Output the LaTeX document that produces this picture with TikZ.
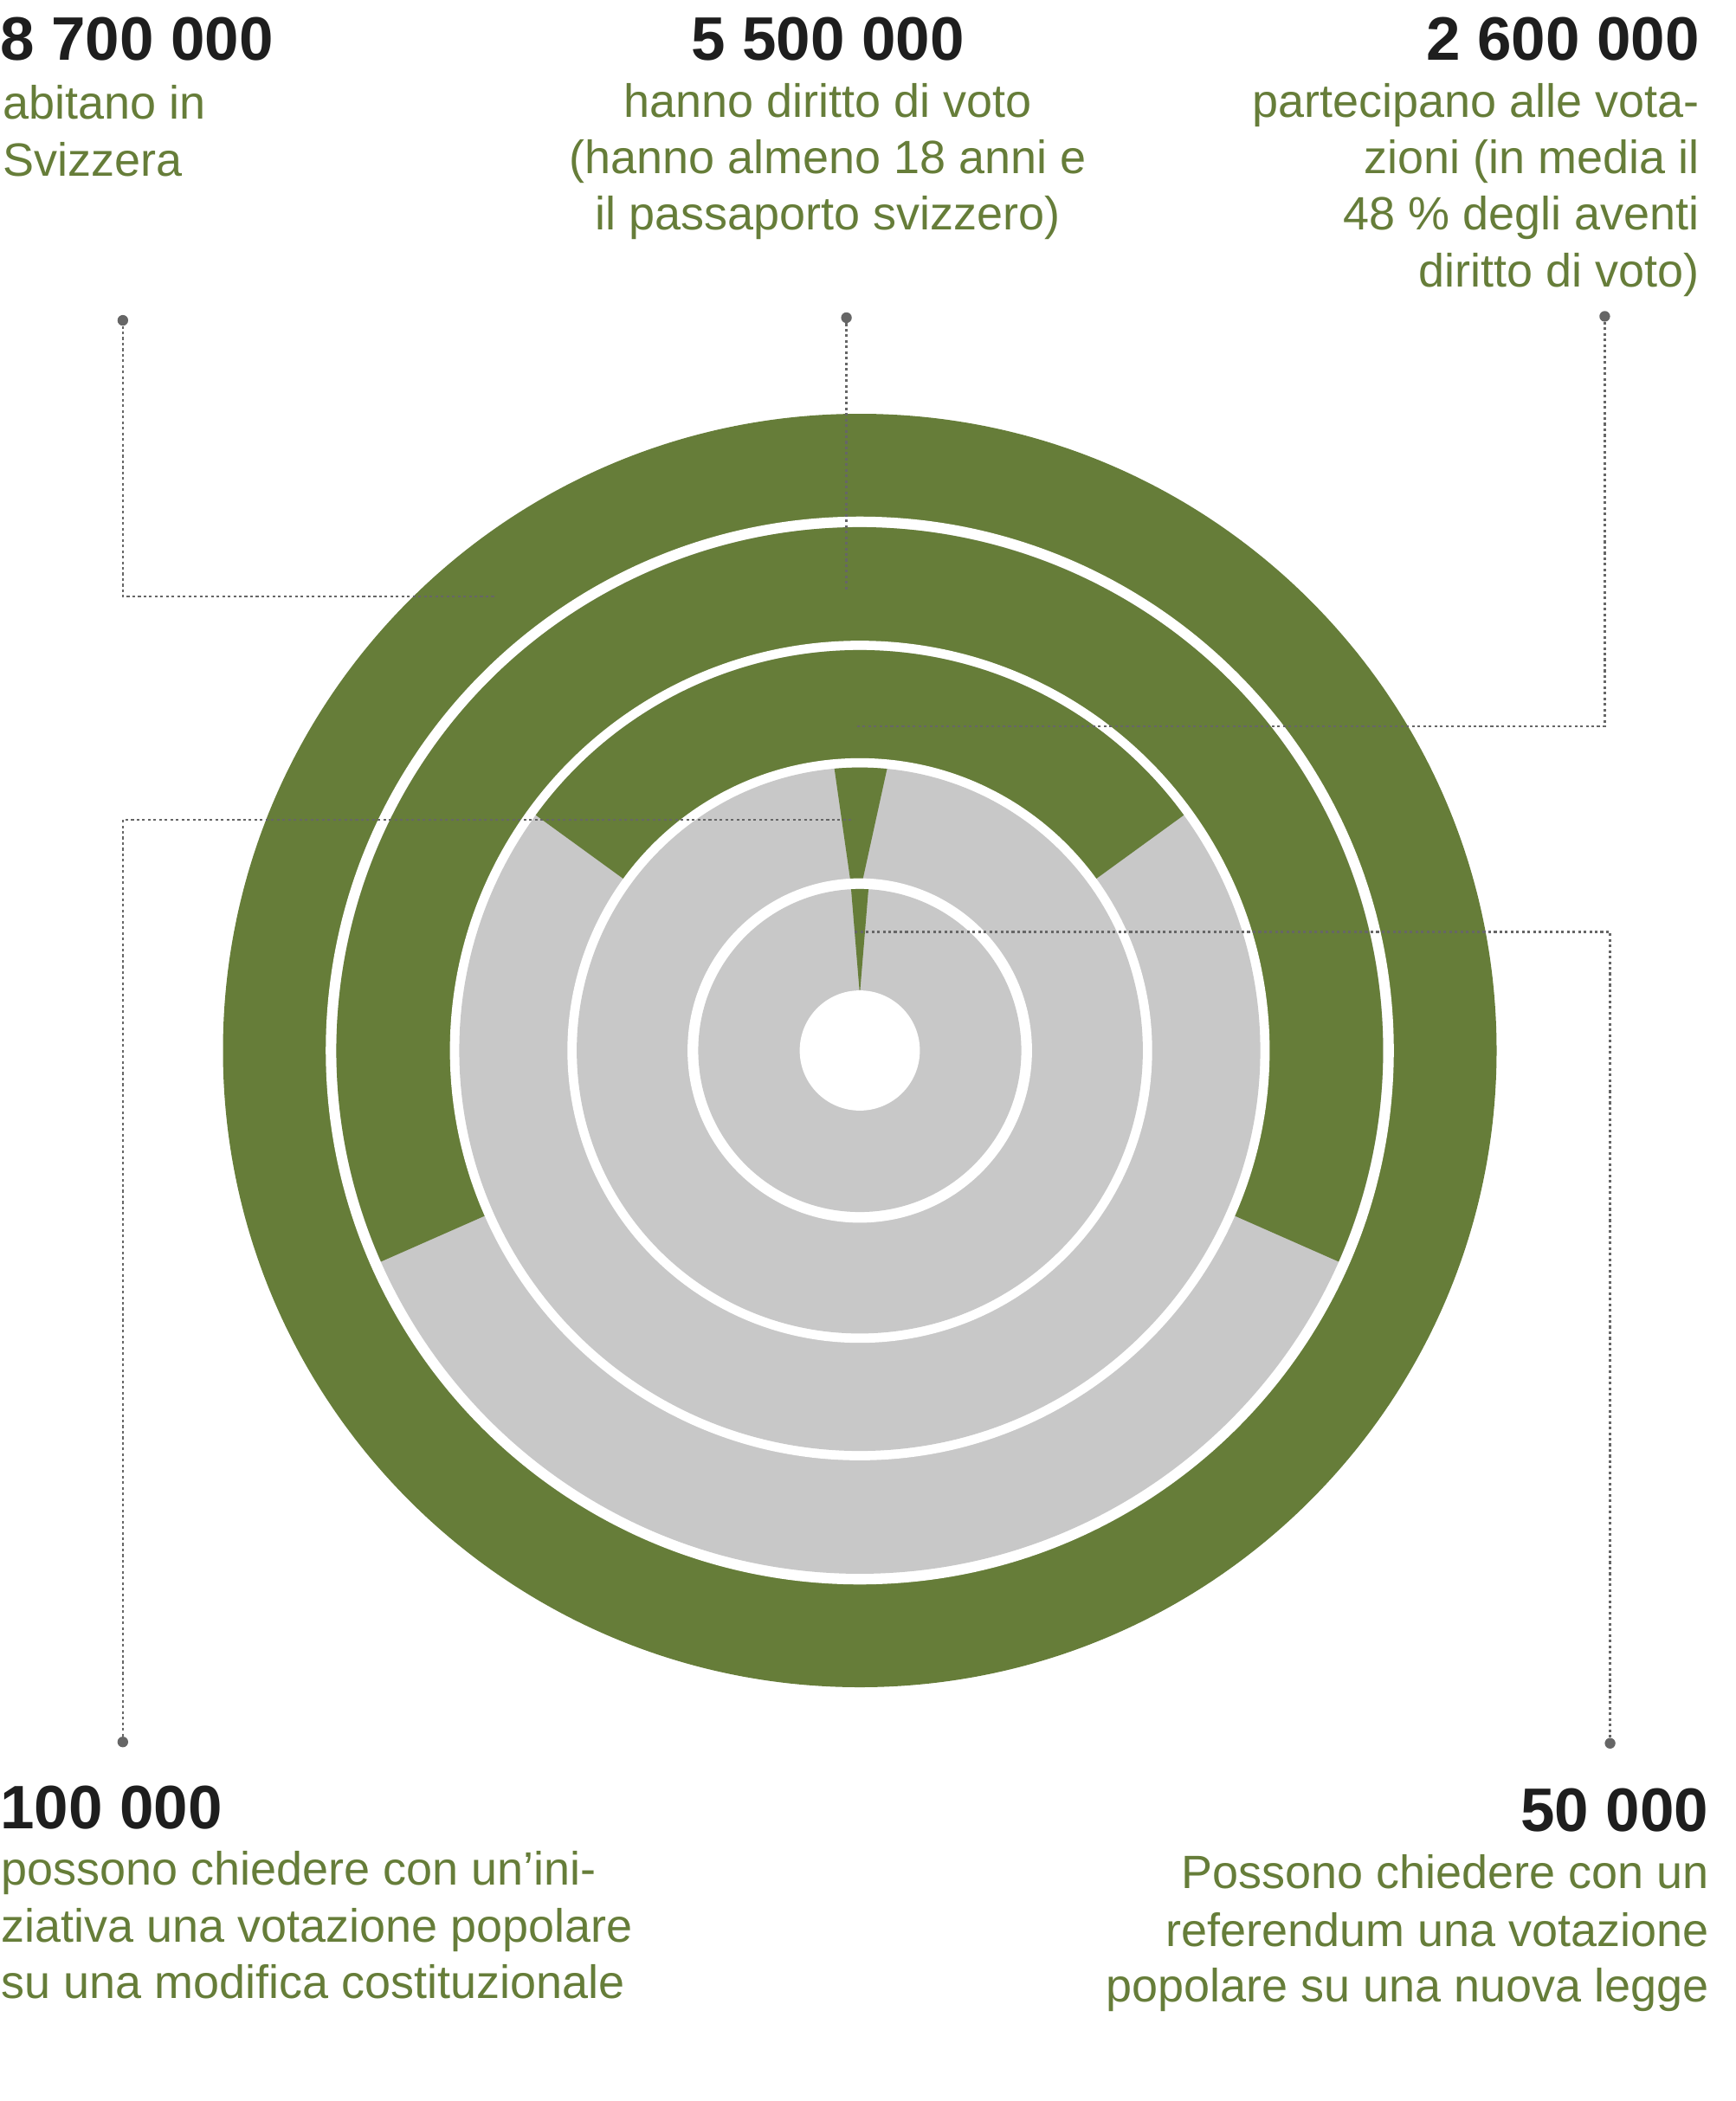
\documentclass[tikz,border=0pt]{standalone}
\usepackage{fontspec}
\setmainfont{Liberation Sans}
\definecolor{grn}{HTML}{667D39}
\definecolor{gry}{HTML}{C8C8C8}
\definecolor{dk}{HTML}{1E1E1E}
\definecolor{ln}{HTML}{666666}
\tikzset{
 num/.style={inner sep=0pt,font=\fontsize{46}{50}\selectfont\bfseries,text=dk},
 txt/.style={inner sep=0pt,font=\fontsize{35}{42}\selectfont,text=grn},
 conn/.style={draw=ln,line width=1.6pt,dash pattern=on 2pt off 2.2pt},
 dotm/.style={circle,fill=ln,inner sep=0pt,minimum size=8pt}
}
\begin{document}
\begin{tikzpicture}[x=1pt,y=-1pt]
\useasboundingbox (0,0) rectangle (1300,1574);
\coordinate (c) at (644,787);
% rings
\fill[grn] (c) circle (477);
\fill[white] (c) circle (400);
\fill[gry] (c) circle (392);
\fill[grn] (c) -- ++(-203.8:392) arc (-203.8:23.8:392) -- cycle;
\fill[white] (c) circle (307);
\fill[gry] (c) circle (300);
\fill[grn] (c) -- ++(-144:300) arc (-144:-36:300) -- cycle;
\fill[white] (c) circle (219);
\fill[gry] (c) circle (212);
\begin{scope}
\clip (c) circle (212);
\fill[grn] (622,555) -- (669,555) -- (646,660) -- (637,660) -- cycle;
\end{scope}
\fill[white] (c) circle (129);
\fill[gry] (c) circle (121);
\begin{scope}
\clip (c) circle (121);
\fill[grn] (637,660) -- (651,660) -- (644,745) -- cycle;
\end{scope}
\fill[white] (c) circle (45);
% texts
\node[num,anchor=base west] (n1) at (0,45) {8 700 000};
\node[txt,anchor=base west] (t1a) at (2,89) {abitano in};
\node[txt,anchor=base west] (t1b) at (2,132) {Svizzera};
\node[num,anchor=base] (n2) at (620,45) {5 500 000};
\node[txt,anchor=base] (t2a) at (620,88) {hanno diritto di voto};
\node[txt,anchor=base] (t2b) at (620,130) {(hanno almeno 18 anni e};
\node[txt,anchor=base] (t2c) at (620,172) {il passaporto svizzero)};
\node[num,anchor=base east] (n3) at (1273,45) {2 600 000};
\node[txt,anchor=base east] (t3a) at (1273,88) {partecipano alle vota-};
\node[txt,anchor=base east] (t3b) at (1273,130) {zioni (in media il};
\node[txt,anchor=base east] (t3c) at (1273,172) {48 \% degli aventi};
\node[txt,anchor=base east] (t3d) at (1273,215) {diritto di voto)};
\node[num,anchor=base west] (n4) at (0,1370) {100 000};
\node[txt,anchor=base west] (t4a) at (1,1412) {possono chiedere con un’ini-};
\node[txt,anchor=base west] (t4b) at (1,1455) {ziativa una votazione popolare};
\node[txt,anchor=base west] (t4c) at (1,1497) {su una modifica costituzionale};
\node[num,anchor=base east] (n5) at (1280,1372) {50 000};
\node[txt,anchor=base east] (t5a) at (1280,1415) {Possono chiedere con un};
\node[txt,anchor=base east] (t5b) at (1280,1458) {referendum una votazione};
\node[txt,anchor=base east] (t5c) at (1280,1500) {popolare su una nuova legge};
% connectors
\node[dotm] (d1) at (92,240) {};
\coordinate (e1) at (372,447);
\draw[conn] (d1) |- (e1);
\node[dotm] (d2) at (634,238) {};
\coordinate (e2) at (634,443);
\draw[conn] (d2) -- (e2);
\node[dotm] (d3) at (1202,237) {};
\coordinate (e3) at (640,544);
\draw[conn] (d3) |- (e3);
\node[dotm] (d4) at (92,1305) {};
\coordinate (e4) at (640,614);
\draw[conn] (d4) |- (e4);
\node[dotm] (d5) at (1206,1306) {};
\coordinate (e5) at (640,698);
\draw[conn] (d5) |- (e5);
\end{tikzpicture}
\end{document}
